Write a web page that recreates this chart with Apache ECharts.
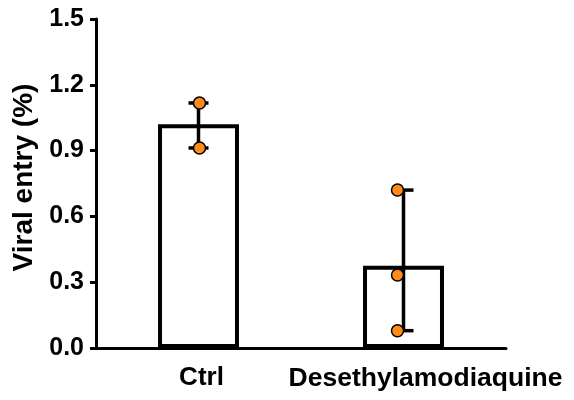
<!DOCTYPE html>
<html>
<head>
<meta charset="utf-8">
<script src="https://cdn.jsdelivr.net/npm/echarts@6/dist/echarts.min.js"></script>
<style>html,body{margin:0;padding:0;background:#fff}#c{width:574px;height:400px}</style>
</head>
<body>
<div id="c"></div>
<script>
var categories = ['Ctrl', 'Desethylamodiaquine'];
var barMeans = [1.02, 0.375];
var ctrlPoints = [1.117, 0.912];
var desPoints = [0.72, 0.333, 0.079];
var errLow = [0.912, 0.079];
var errHigh = [1.117, 0.72];
var yTicks = [0, 0.3, 0.6, 0.9, 1.2, 1.5];

var FONT = "'Liberation Sans', Arial, sans-serif";
var chart = echarts.init(document.getElementById('c'), null, {renderer: 'canvas'});

var pointGroups = [ctrlPoints, desPoints];
var scatterData = [];
pointGroups.forEach(function (pts, ci) {
  pts.forEach(function (v) {
    scatterData.push({value: [ci, v], symbolOffset: ci === 1 ? [-6, 0] : [1, 0]});
  });
});

var errData = categories.map(function (c, i) { return [i, errLow[i], errHigh[i]]; });

chart.setOption({
  animation: false,
  grid: {left: 96, right: 68, top: 19, bottom: 52, containLabel: false, outerBoundsMode: 'none'},
  xAxis: {
    type: 'category',
    data: categories,
    axisLine: {lineStyle: {color: '#000', width: 3}},
    axisTick: {alignWithLabel: true, length: 6, lineStyle: {color: '#000', width: 3}},
    axisLabel: {
      margin: 17,
      color: '#000',
      formatter: function (v, i) { return i === 1 ? '{b|' + v + '}' : '{a|' + v + '}'; },
      rich: {
        a: {fontFamily: FONT, fontWeight: 'bold', fontSize: 26, color: '#000', padding: [0, 0, 0, 6]},
        b: {fontFamily: FONT, fontWeight: 'bold', fontSize: 26.5, color: '#000', padding: [0, 0, 0, 44]}
      }
    },
    splitLine: {show: false}
  },
  yAxis: {
    type: 'value',
    min: yTicks[0],
    max: yTicks[yTicks.length - 1],
    interval: 0.3,
    name: 'Viral entry (%)',
    nameLocation: 'middle',
    nameRotate: 90,
    nameGap: 54,
    nameTextStyle: {fontFamily: FONT, fontWeight: 'bold', fontSize: 28, color: '#000', padding: [0, 0, 0, 12]},
    axisLine: {show: true, lineStyle: {color: '#000', width: 3}},
    axisTick: {show: true, length: 6, lineStyle: {color: '#000', width: 3}},
    axisLabel: {
      margin: 12,
      color: '#000',
      fontFamily: FONT,
      fontWeight: 'bold',
      fontSize: 25,
      formatter: function (v) { return v.toFixed(1); }
    },
    splitLine: {show: false}
  },
  series: [
    {
      type: 'bar',
      data: barMeans,
      barWidth: '39.5%',
      itemStyle: {color: '#fff', borderColor: '#000', borderWidth: 4},
      z: 2
    },
    {
      type: 'custom',
      data: errData,
      z: 3,
      renderItem: function (params, api) {
        var x = api.value(0);
        var lo = api.coord([x, api.value(1)]);
        var hi = api.coord([x, api.value(2)]);
        var hw = 10;
        var st = {stroke: '#000', lineWidth: 3.5, fill: null};
        return {
          type: 'group',
          children: [
            {type: 'line', shape: {x1: hi[0], y1: hi[1], x2: lo[0], y2: lo[1]}, style: st},
            {type: 'line', shape: {x1: hi[0] - hw, y1: hi[1], x2: hi[0] + hw, y2: hi[1]}, style: st},
            {type: 'line', shape: {x1: lo[0] - hw, y1: lo[1], x2: lo[0] + hw, y2: lo[1]}, style: st}
          ]
        };
      }
    },
    {
      type: 'scatter',
      data: scatterData,
      symbol: 'circle',
      symbolSize: 12,
      itemStyle: {color: '#FF8C1A', borderColor: '#000', borderWidth: 1.5, opacity: 1},
      z: 4
    }
  ]
});
</script>
</body>
</html>
